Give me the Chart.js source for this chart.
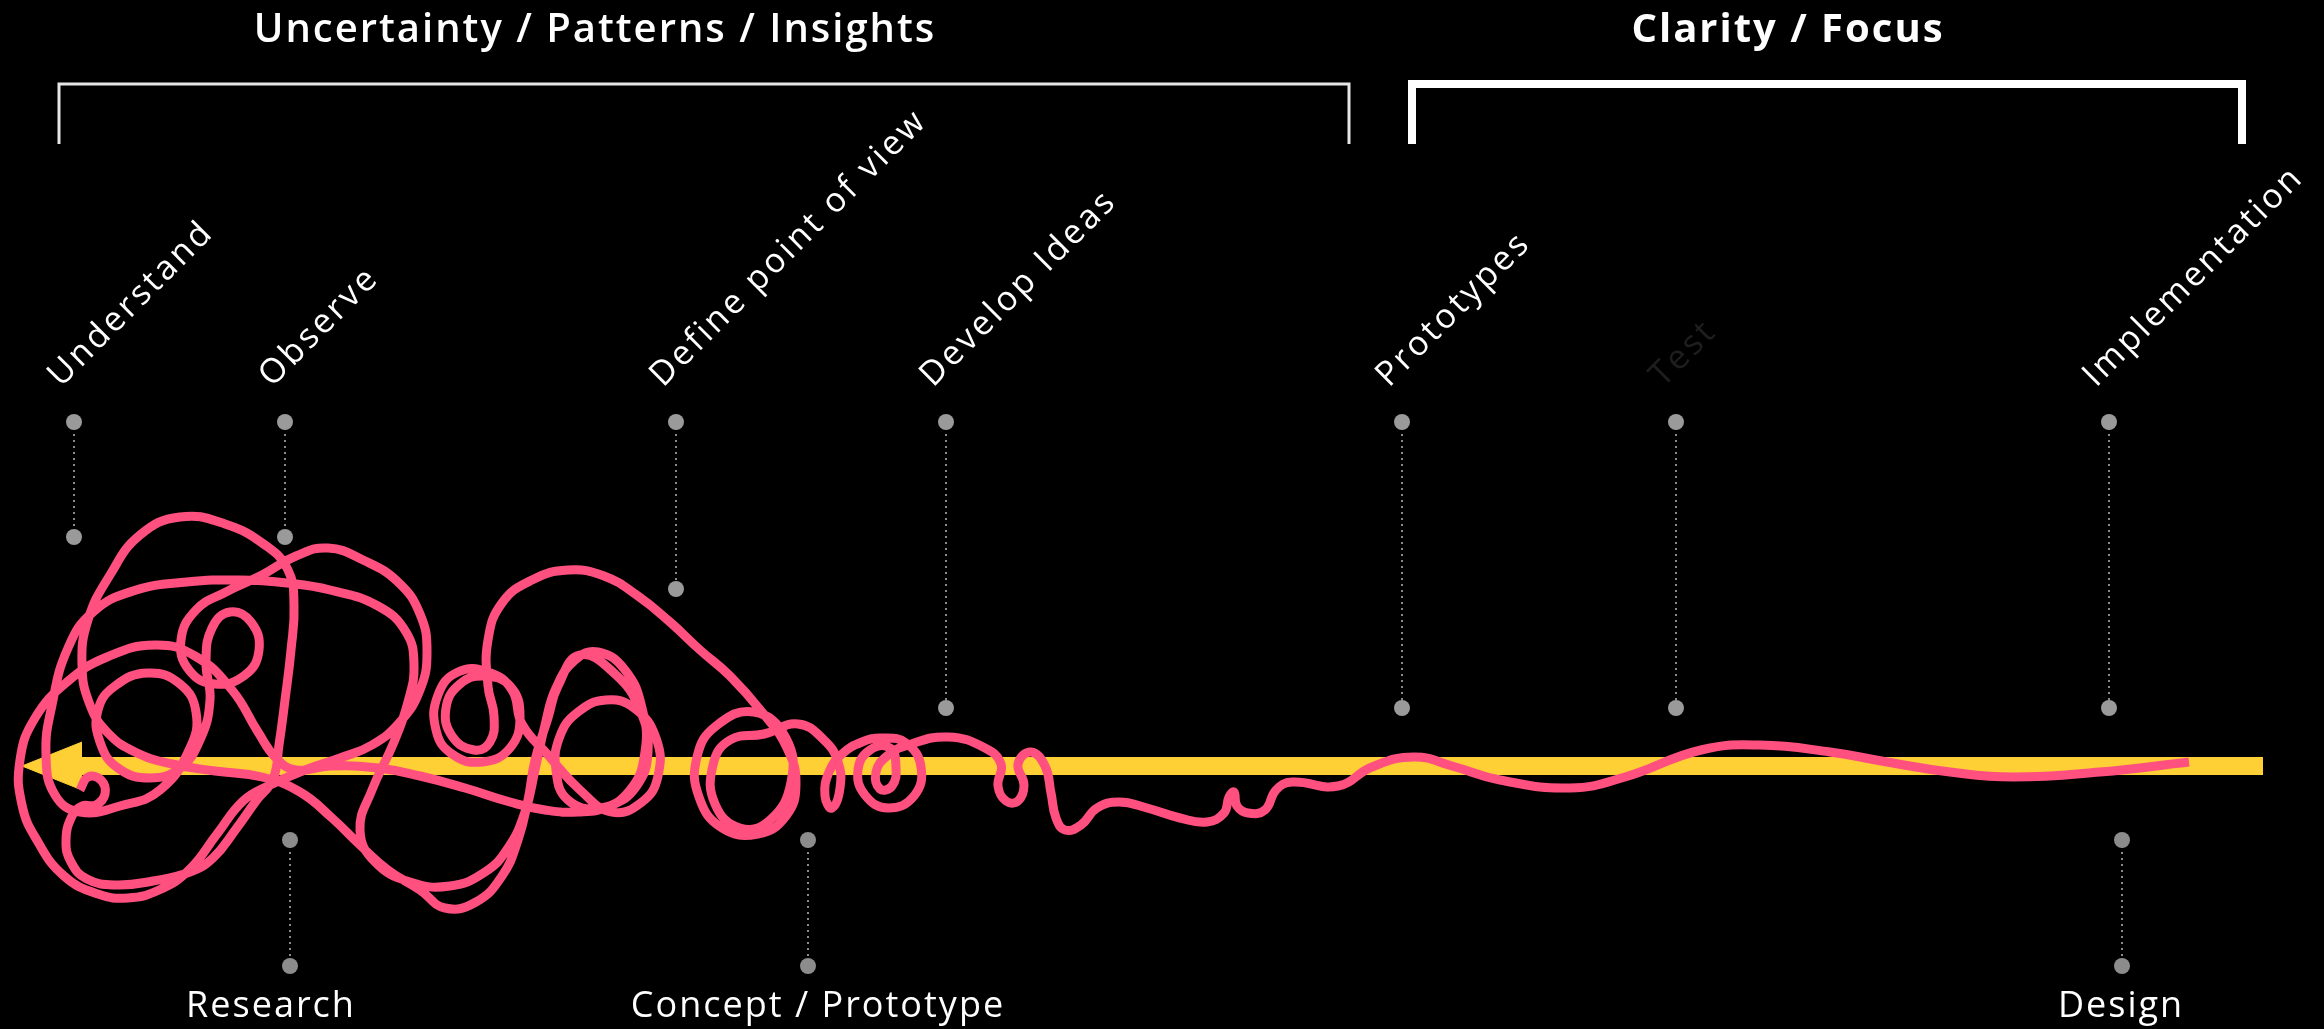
<!DOCTYPE html>
<html>
<head>
<meta charset="utf-8">
<script src="https://cdn.jsdelivr.net/npm/chart.js@4.4.1/dist/chart.umd.min.js"></script>
<style>
  html, body { margin: 0; padding: 0; background: #000; }
  #wrap { width: 2324px; height: 1029px; }
</style>
</head>
<body>
<div id="wrap"><canvas id="chart"></canvas></div>
<script>
// phases across the top
const phaseTitles = ['Uncertainty / Patterns / Insights', 'Clarity / Focus'];
const phaseTitleX = [595, 1788];
const phaseStart = [59, 1412];
const phaseEnd = [1349, 2242];

// milestones above the arrow
const topLabels = ['Understand', 'Observe', 'Define point of view', 'Develop Ideas', 'Prototypes', 'Test', 'Implementation'];
const topX = [74, 285, 676, 946, 1402, 1676, 2109];
const topStemEnd = [537, 537, 589, 708, 708, 708, 708];

// milestones below the arrow
const bottomLabels = ['Research', 'Concept / Prototype', 'Design'];
const bottomX = [290, 808, 2122];
const bottomLabelX = [271, 818, 2121];

// the design squiggle, traced left to right
const squiggle = [
  // start curl by the arrow head
  [80,790],[88,777],[101,780],[105,794],[96,805],[82,806],
  // left strand down, back along the bottom to the knot
  [72,816],[66,840],[71,862],[87,879],[116,885],[153,881],[190,872],[213,858],[236,829],[256,801],[273,779],
  // tall loop
  [279,745],[285,700],[291,650],[294,605],[288,570],[265,545],[225,524],[180,517],[140,535],[110,575],[88,620],[82,665],[90,705],[108,733],[135,752],[172,764],[215,771],[262,777],
  // lower right lobe and back along the shaft
  [300,792],[332,818],[360,845],[388,870],[420,890],[445,908],[476,902],[502,876],[518,840],[528,800],[535,760],[548,718],[558,686],[580,655],[615,674],[640,710],[648,752],[636,787],[610,806],[578,812],[545,810],[510,802],[465,788],[420,776],[378,768],[330,766],[296,770],
  // up-left over the middle arc and round the bottom left
  [276,758],[258,732],[232,690],[195,656],[155,645],[107,657],[67,682],[35,718],[20,760],[22,805],[38,842],[64,876],[98,894],[128,898],[159,890],[189,870],[217,834],[243,801],[268,786],
  // bow to the right, up into the upper loop
  [305,770],[340,758],[372,745],[400,722],[420,690],[427,652],[420,614],[398,582],[363,560],[328,548],[296,556],
  // small curl
  [262,575],[226,592],[196,610],[181,640],[189,670],[215,684],[245,675],[259,650],[251,622],[230,612],[212,628],[206,662],[210,700],
  // loop on the left of the knot
  [200,740],[180,768],[150,778],[118,768],[100,742],[98,710],[115,686],[148,673],[180,684],[196,712],[190,748],[160,790],[120,806],[80,812],[55,795],
  // wide upper arc
  [46,755],[52,705],[68,648],[93,612],[133,591],[187,582],[240,580],[287,583],[330,590],[378,606],[406,632],[414,665],
  // down into the lower lobes
  [408,702],[394,742],[372,790],[360,830],[375,862],[410,882],[450,886],[485,872],[508,848],[525,812],[535,770],[545,725],[556,688],
  // loops right of the knot
  [575,660],[598,652],[625,670],[642,708],[645,752],[630,790],[600,808],[568,800],[556,770],[560,736],[578,712],[606,700],[634,708],[656,738],[658,776],[642,802],[612,812],[580,790],
  // double circle
  [548,755],[522,724],[512,690],[488,672],[458,672],[438,695],[436,730],[452,754],[482,762],[510,748],[520,716],[510,686],[484,676],[460,684],[446,708],[452,736],[474,750],
  // up the leg of the big arch
  [490,742],[494,716],[488,686],[488,640],[502,603],[532,580],[568,570],[604,576],[638,596],[670,622],[700,650],[730,676],[762,712],
  // spiral
  [787,748],[796,784],[786,816],[758,834],[722,828],[699,797],[697,757],[716,726],[754,712],
  [786,738],[791,782],[770,820],[740,828],[715,804],[713,765],[730,740],[764,734],[798,724],[824,740],[838,762],
  // small curls
  [840,788],[832,808],[825,796],[829,772],[842,754],[862,742],[882,738],[906,743],[921,767],[914,796],[888,808],[865,795],[858,770],[870,750],[890,748],[896,767],[892,786],[880,789],[876,772],[887,756],[908,745],
  [948,737],[985,748],[1001,764],[998,786],[1006,801],[1018,801],[1024,785],[1018,764],[1031,752],[1045,766],[1051,793],[1056,818],[1065,830],[1081,825],[1097,808],[1119,802],[1147,808],[1180,818],[1207,822],[1224,813],[1229,797],[1234,792],[1237,806],[1248,813],[1265,810],[1276,790],[1292,782],
  // calm tail
  [1338,786],[1372,767],[1414,757],[1452,766],[1500,780],[1570,788],[1625,777],[1701,750],[1760,745],[1830,752],[1887,762],[1950,772],[2013,777],[2100,772],[2189,762]
];

const barLevel = 766, barStart = 70, barEnd = 2263;
const arrowTip = 22, arrowBack = 82, arrowHalf = 24;
const topDotY = 422, bottomDotTop = 840, bottomDotBottom = 966;
const bracketTop = 84, bracketFoot = 144;

const yellow = '#ffd035';
const pink = '#ff5080';

const datasets = [];

// dotted stems with their dots
topX.forEach((x, i) => {
  datasets.push({
    data: [{x: x, y: topDotY}, {x: x, y: topStemEnd[i]}],
    borderColor: '#8a8a8a', borderWidth: 2, borderDash: [2, 4],
    pointRadius: 8, pointBackgroundColor: '#9a9a9a', pointBorderWidth: 0,
    order: 0
  });
});
bottomX.forEach(x => {
  datasets.push({
    data: [{x: x, y: bottomDotTop}, {x: x, y: bottomDotBottom}],
    borderColor: '#8a8a8a', borderWidth: 2, borderDash: [2, 4],
    pointRadius: 8, pointBackgroundColor: '#8c8c8c', pointBorderWidth: 0,
    order: 0
  });
});

// squiggle
datasets.push({
  data: squiggle.map(p => ({x: p[0], y: p[1]})),
  borderColor: pink, borderWidth: 9, tension: 0.45,
  borderCapStyle: 'butt', borderJoinStyle: 'round',
  pointRadius: 0, order: 1
});

// yellow arrow: shaft plus head filled between two edges
datasets.push({
  data: [{x: barStart, y: barLevel}, {x: barEnd, y: barLevel}],
  borderColor: yellow, borderWidth: 18, borderCapStyle: 'butt',
  pointRadius: 0, order: 3
});
datasets.push({
  data: [{x: arrowTip, y: barLevel}, {x: arrowBack, y: barLevel - arrowHalf}],
  borderColor: yellow, borderWidth: 1, pointRadius: 0,
  fill: '+1', backgroundColor: yellow, order: 3
});
datasets.push({
  data: [{x: arrowTip, y: barLevel}, {x: arrowBack, y: barLevel + arrowHalf}],
  borderColor: yellow, borderWidth: 1, pointRadius: 0, order: 3
});

// phase brackets
phaseStart.forEach((s, i) => {
  datasets.push({
    data: [{x: s, y: bracketFoot}, {x: s, y: bracketTop}, {x: phaseEnd[i], y: bracketTop}, {x: phaseEnd[i], y: bracketFoot}],
    borderColor: i === 0 ? '#e6e6e6' : '#ffffff', borderWidth: i === 0 ? 3 : 8,
    borderJoinStyle: 'miter', borderCapStyle: 'butt',
    pointRadius: 0, order: 4
  });
});

const textPlugin = {
  id: 'texts',
  afterDraw(chart) {
    const {ctx, scales: {x, y}} = chart;
    ctx.save();
    ctx.fillStyle = '#fff';
    ctx.textBaseline = 'alphabetic';

    // phase titles
    ctx.textAlign = 'center';
    phaseTitles.forEach((t, i) => {
      ctx.font = (i === 0 ? '600' : '700') + ' 40px "Open Sans"';
      ctx.letterSpacing = '2px';
      ctx.fillText(t, x.getPixelForValue(phaseTitleX[i]), y.getPixelForValue(42));
    });

    // slanted milestone labels
    ctx.textAlign = 'left';
    ctx.font = '400 34px "Open Sans"';
    ctx.letterSpacing = '3px';
    topLabels.forEach((t, i) => {
      ctx.save();
      ctx.translate(x.getPixelForValue(topX[i] - 13), y.getPixelForValue(388));
      ctx.rotate(-Math.PI / 4);
      ctx.fillStyle = t === 'Test' ? '#1e1e1e' : '#fff';
      ctx.fillText(t, 0, 0);
      ctx.restore();
    });

    // labels under the arrow
    ctx.textAlign = 'center';
    ctx.font = '400 36px "Open Sans"';
    ctx.letterSpacing = '2px';
    bottomLabels.forEach((t, i) => {
      ctx.fillText(t, x.getPixelForValue(bottomLabelX[i]), y.getPixelForValue(1017));
    });
    ctx.restore();
  }
};

new Chart(document.getElementById('chart'), {
  type: 'line',
  data: { datasets: datasets },
  options: {
    responsive: true,
    maintainAspectRatio: false,
    animation: false,
    events: [],
    layout: { padding: 0, autoPadding: false },
    scales: {
      x: { type: 'linear', min: 0, max: 2324, display: false },
      y: { type: 'linear', min: 0, max: 1029, reverse: true, display: false }
    },
    plugins: {
      legend: { display: false },
      tooltip: { enabled: false }
    }
  },
  plugins: [textPlugin]
});
</script>
</body>
</html>
